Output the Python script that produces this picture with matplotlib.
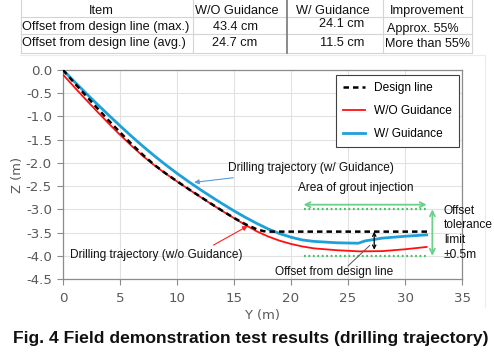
import matplotlib
matplotlib.use("Agg")
import matplotlib.pyplot as plt

# ---------------- data ----------------
design_y = [0, 1, 2, 3, 4, 5, 6, 7, 8, 9, 10, 11, 12, 13, 14, 15, 16, 17, 17.6, 18.2, 20, 24, 28, 32]
design_z = [0, -0.28, -0.55, -0.82, -1.085, -1.34, -1.59, -1.825, -2.04, -2.225, -2.395, -2.56, -2.72,
            -2.88, -3.035, -3.185, -3.32, -3.43, -3.47, -3.48, -3.48, -3.48, -3.48, -3.48]

red_y = [0, 1, 2, 3, 4, 5, 6, 7, 8, 9, 10, 11, 12, 13, 14, 15, 16, 17, 18, 19, 20, 21, 22, 24, 26, 28, 30, 31.9]
red_z = [-0.10, -0.37, -0.635, -0.895, -1.15, -1.395, -1.63, -1.85, -2.05, -2.23, -2.40, -2.565, -2.725,
         -2.885, -3.04, -3.19, -3.335, -3.475, -3.585, -3.675, -3.745, -3.80, -3.84, -3.88, -3.905, -3.90,
         -3.86, -3.81]

blue_y = [0, 1, 2, 3, 4, 5, 6, 7, 8, 9, 10, 11, 12, 13, 14, 15, 16, 17, 18, 19, 20, 21, 22, 24, 25.9, 26.5, 28, 30, 31.9]
blue_z = [0, -0.25, -0.495, -0.735, -0.97, -1.20, -1.425, -1.64, -1.845, -2.04, -2.225, -2.40, -2.568,
          -2.728, -2.883, -3.033, -3.173, -3.303, -3.423, -3.523, -3.60, -3.66, -3.69, -3.72, -3.73,
          -3.68, -3.62, -3.58, -3.55]

tol_y = [21.1, 31.9]
tol_upper = -3.0
tol_lower = -4.0

x_ticks = [0, 5, 10, 15, 20, 25, 30, 35]
y_ticks = [0.0, -0.5, -1.0, -1.5, -2.0, -2.5, -3.0, -3.5, -4.0, -4.5]

table_header = ["Item", "W/O Guidance", "W/ Guidance", "Improvement"]
table_rows = [["Offset from design line (max.)", "43.4 cm", "24.1 cm", "Approx. 55%"],
              ["Offset from design line (avg.)", "24.7 cm", "11.5 cm", "More than 55%"]]

title = "Fig. 4 Field demonstration test results (drilling trajectory)"

# ---------------- figure ----------------
plt.rcParams['font.family'] = ['Liberation Sans', 'DejaVu Sans']
W, H = 494, 355
fig = plt.figure(figsize=(W / 100, H / 100), dpi=100)
fig.patch.set_facecolor('white')

ov = fig.add_axes([0, 0, 1, 1], zorder=0)
ov.set_xlim(0, W)
ov.set_ylim(H, 0)
ov.axis('off')

ax = fig.add_axes([63 / W, 1 - 279 / H, (462 - 63) / W, (279 - 70) / H], zorder=1)
ax.set_facecolor('none')

# ---- table ----
light = '#d4d4d4'
for yy in [17, 34, 53]:
    ov.plot([21, 472], [yy, yy], color=light, lw=0.8)
for xx in [21, 193, 383, 472]:
    ov.plot([xx, xx], [0, 53], color=light, lw=0.8)
ov.plot([287, 287], [0, 53], color='#777777', lw=1.2)

hx = [101, 237, 333, 427]
for x, t in zip(hx, table_header):
    ov.text(x, 11, t, ha='center', va='center', fontsize=9.2, color='#111111')
row_y = [[27, 27, 24, 29], [43, 43, 43, 44]]
cell_x = [[22, 235, 342, 423], [22, 235, 342, 427]]
for r, row in enumerate(table_rows):
    for c, t in enumerate(row):
        if c == 0:
            ov.text(cell_x[r][c], row_y[r][c], t, ha='left', va='center', fontsize=9.2, color='#111111')
        else:
            ov.text(cell_x[r][c], row_y[r][c], t, ha='center', va='center',
                    fontsize=9 if c == 3 else 9.2, color='#111111')

# faint chart border
ov.plot([20, 485], [55, 55], color='#ececec', lw=0.8)
ov.plot([485, 485], [55, 307], color='#ececec', lw=0.8)

# title
ov.text(251, 338, title, ha='center', va='center', fontsize=12.6, fontweight='bold', color='#111111')

# ---- chart ----
ax.plot(design_y, design_z, color='black', lw=1.8, ls=(0, (2.2, 1.6)), label='Design line', zorder=4)
ax.plot(red_y, red_z, color='#ff1010', lw=1.3, label='W/O Guidance', zorder=3)
ax.plot(blue_y, blue_z, color='#1ea0d8', lw=2.0, label='W/ Guidance', zorder=3)

ax.set_xlim(0, 35)
ax.set_ylim(-4.5, 0)
ax.set_xticks(x_ticks)
ax.set_yticks(y_ticks)
ax.set_yticklabels([f"{v:.1f}" for v in y_ticks])
ax.grid(True, color='#e2e2e2', lw=0.8, zorder=0)
ax.set_axisbelow(True)
for s in ax.spines.values():
    s.set_color('#8c8c8c')
    s.set_linewidth(0.9)
ax.tick_params(axis='both', length=4, color='#8c8c8c', labelcolor='#595959', labelsize=9.6)
ax.tick_params(axis='y', pad=4)
ax.tick_params(axis='x', pad=5)
for lab in ax.get_xticklabels() + ax.get_yticklabels():
    lab.set_family('DejaVu Sans')
ax.set_xlabel('Y (m)', color='#595959', fontsize=9.4, family='DejaVu Sans', labelpad=3)
ax.set_ylabel('Z (m)', color='#595959', fontsize=9.4, family='DejaVu Sans', labelpad=1)

leg = ax.legend(loc='upper left', bbox_to_anchor=(336 / W, 1 - 75 / H), bbox_transform=fig.transFigure,
                borderaxespad=0, fancybox=False, framealpha=1, edgecolor='#404040', fontsize=8.6,
                handlelength=1.8, handletextpad=0.75, labelspacing=0.92, borderpad=0.6)
leg.get_frame().set_linewidth(0.8)
leg.set_zorder(10)

# green tolerance lines
green = '#44c064'
ax.plot(tol_y, [tol_upper, tol_upper], color=green, lw=1.6, ls=(0, (0.8, 1.2)), zorder=2)
ax.plot(tol_y, [tol_lower, tol_lower], color=green, lw=1.6, ls=(0, (0.8, 1.2)), zorder=2)
ax.annotate('', xy=(tol_y[0], -2.9), xytext=(tol_y[1], -2.9),
            arrowprops=dict(arrowstyle='<->', color='#6cd08a', lw=1.3, mutation_scale=9, shrinkA=0, shrinkB=0))
ax.annotate('', xy=(32.4, tol_upper), xytext=(32.4, tol_lower),
            arrowprops=dict(arrowstyle='<->', color='#6cd08a', lw=1.3, mutation_scale=9, shrinkA=0, shrinkB=0))
ax.text(25.7, -2.55, 'Area of grout injection', ha='center', va='center', fontsize=8.6, color='#111111')
ax.text(33.4, -3.5, 'Offset\ntolerance\nlimit\n±0.5m', ha='left', va='center', fontsize=8.6,
        color='#111111', linespacing=1.3, clip_on=False)

# offset arrow
ax.annotate('', xy=(27.3, -3.48), xytext=(27.3, -3.87),
            arrowprops=dict(arrowstyle='<->', color='black', lw=0.9, mutation_scale=6, shrinkA=0, shrinkB=0))
ax.plot([26.9, 25.0], [-3.78, -4.22], color='#555555', lw=0.7)
ax.text(23.8, -4.35, 'Offset from design line', ha='center', va='center', fontsize=8.6, color='#111111')

# trajectory labels
ax.annotate('Drilling trajectory (w/ Guidance)', xy=(11.5, -2.42), xytext=(14.5, -2.12),
            ha='left', va='center', fontsize=8.6, color='#111111',
            arrowprops=dict(arrowstyle='-|>', color='#5b9bd5', lw=0.8, mutation_scale=7,
                            shrinkA=3, shrinkB=0))
ax.annotate('Drilling trajectory (w/o Guidance)', xy=(16.2, -3.36), xytext=(0.6, -3.99),
            ha='left', va='center', fontsize=8.6, color='#111111', annotation_clip=False)
ax.annotate('', xy=(16.2, -3.36), xytext=(13.2, -3.77),
            arrowprops=dict(arrowstyle='-|>', color='#ff2020', lw=0.8, mutation_scale=7,
                            shrinkA=0, shrinkB=0))

fig.savefig('out.png', dpi=100)
